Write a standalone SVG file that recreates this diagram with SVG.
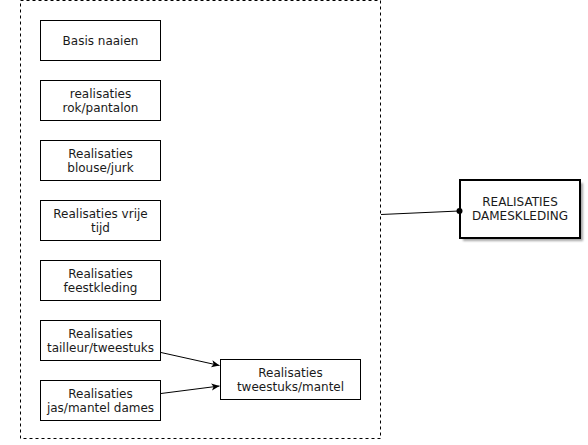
<svg xmlns="http://www.w3.org/2000/svg" width="588" height="445" viewBox="0 0 588 445">
<style>
.n rect{fill:#fff;stroke:#000;stroke-width:1}
text{font-family:"DejaVu Sans",Verdana,sans-serif;font-size:12px;fill:#1a1a1a;text-anchor:middle}
.c{fill:none;stroke:#000;stroke-width:1}
</style>
<defs>
<marker id="a" markerWidth="10" markerHeight="10" refX="9" refY="5" orient="auto" markerUnits="userSpaceOnUse">
<path d="M1,1.5 L9,5 L1,8.5 L3,5 Z" fill="#000"/>
</marker>
<filter id="sh" x="-10%" y="-10%" width="130%" height="130%">
<feOffset dx="3" dy="3" in="SourceAlpha"/>
<feGaussianBlur stdDeviation="1"/>
<feComponentTransfer><feFuncA type="linear" slope="0.35"/></feComponentTransfer>
</filter>
</defs>
<g id="container"><rect x="20.5" y="0.5" width="360" height="438" fill="none" stroke="#000" stroke-dasharray="3,3"/></g>
<g id="basis" class="n"><rect x="40.5" y="20.5" width="120" height="40"/><text x="100.5" y="45">Basis naaien</text></g>
<g id="rok" class="n"><rect x="40.5" y="80.5" width="120" height="40"/><text x="100.5" y="98">realisaties</text><text x="100.5" y="111.5">rok/pantalon</text></g>
<g id="blouse" class="n"><rect x="40.5" y="140.5" width="120" height="40"/><text x="100.5" y="158">Realisaties</text><text x="100.5" y="171.5">blouse/jurk</text></g>
<g id="vrije" class="n"><rect x="40.5" y="200.5" width="120" height="40"/><text x="100.5" y="218">Realisaties vrije</text><text x="100.5" y="231.5">tijd</text></g>
<g id="feest" class="n"><rect x="40.5" y="260.5" width="120" height="40"/><text x="100.5" y="278">Realisaties</text><text x="100.5" y="291.5">feestkleding</text></g>
<g id="tailleur" class="n"><rect x="40.5" y="320.5" width="120" height="40"/><text x="100.5" y="338">Realisaties</text><text x="100.5" y="351.5">tailleur/tweestuks</text></g>
<g id="jas" class="n"><rect x="40.5" y="380.5" width="120" height="40"/><text x="100.5" y="398">Realisaties</text><text x="100.5" y="411.5">jas/mantel dames</text></g>
<g id="tweestuks" class="n"><rect x="220.5" y="359.5" width="140" height="40"/><text x="290.5" y="377">Realisaties</text><text x="290.5" y="390.5">tweestuks/mantel</text></g>
<g id="dames"><rect x="460" y="180" width="120" height="58" fill="#000" filter="url(#sh)"/><rect x="460" y="180" width="120" height="58" fill="#fff" stroke="#000" stroke-width="2"/><text x="520" y="206">REALISATIES</text><text x="520" y="219.5">DAMESKLEDING</text></g>
<g id="connectors">
<path class="c" d="M161,352.5 L219.5,365.5" marker-end="url(#a)"/>
<path class="c" d="M161,393.5 L219.5,386" marker-end="url(#a)"/>
<path class="c" d="M381,214.5 L459,211"/>
<circle cx="459.5" cy="211" r="3" fill="#000"/>
</g>
</svg>
